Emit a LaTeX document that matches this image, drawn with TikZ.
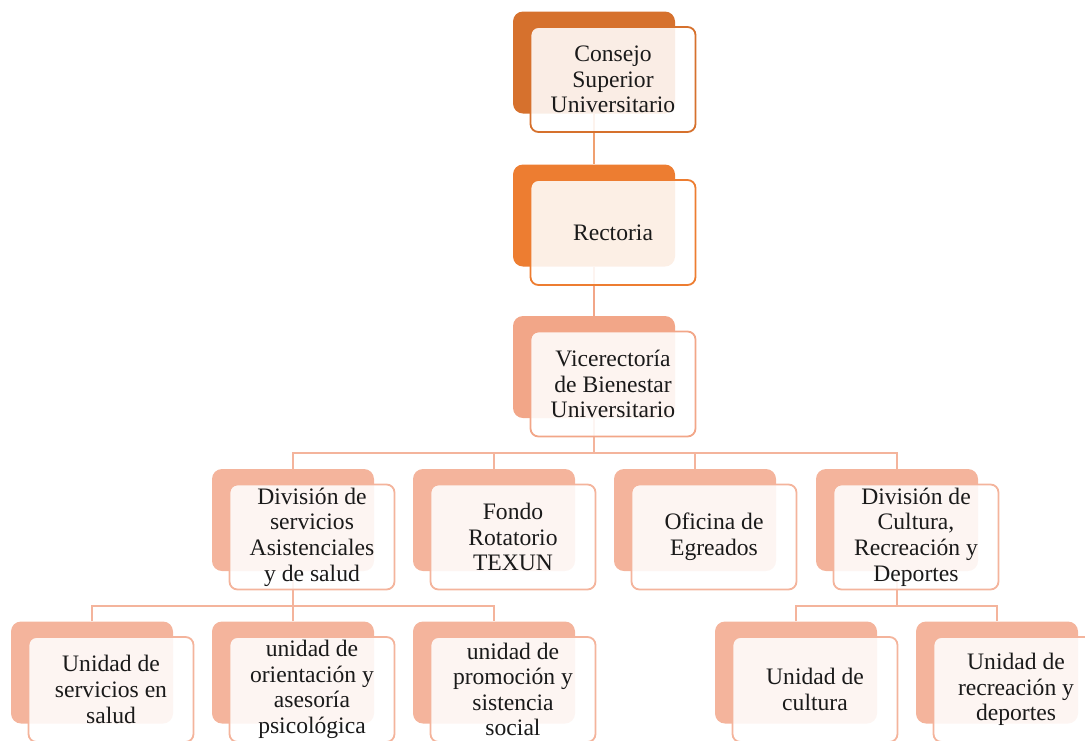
\documentclass[tikz,border=0pt]{standalone}
\usepackage{fontspec}
\setmainfont{Liberation Serif}
\usetikzlibrary{calc}
\definecolor{cTop}{HTML}{D6712D}
\definecolor{cRect}{HTML}{ED7D31}
\definecolor{cVice}{HTML}{F2A688}
\definecolor{cLow}{HTML}{F4B49C}
\definecolor{cLink}{HTML}{F0A070}
\definecolor{txt}{HTML}{1A1A1A}
\begin{document}
\begin{tikzpicture}[x=1pt,y=-1pt,
  backbox/.style={rounded corners=10pt, minimum width=162pt, minimum height=102pt, inner sep=0pt},
  frontbox/.style={draw, line width=1.8pt, rounded corners=8pt, fill=white, fill opacity=0.88, text opacity=1,
    minimum width=165pt, minimum height=105pt, align=center, inner sep=0pt, text=txt,
    font=\fontsize{23.6}{25.6}\selectfont},
  conn/.style={line width=2.4pt, draw=cLow}]
\useasboundingbox (0,0) rectangle (1085,740);
\clip (0,0) rectangle (1085,740);
% back boxes
\node[backbox, fill=cTop] (b1) at (594,62.5) {};
\node[backbox, fill=cRect] (b2) at (594,215.5) {};
\node[backbox, fill=cVice] (b3) at (594,367) {};
\node[backbox, fill=cLow] (b4a) at (293,520) {};
\node[backbox, fill=cLow] (b4b) at (494,520) {};
\node[backbox, fill=cLow] (b4c) at (695,520) {};
\node[backbox, fill=cLow] (b4d) at (897,520) {};
\node[backbox, fill=cLow] (b5a) at (92,672.5) {};
\node[backbox, fill=cLow] (b5b) at (293,672.5) {};
\node[backbox, fill=cLow] (b5c) at (494,672.5) {};
\node[backbox, fill=cLow] (b5d) at (796,672.5) {};
\node[backbox, fill=cLow] (b5e) at (997,672.5) {};
% junctions
\coordinate (j3) at (594,453);
\coordinate (j4l) at (293,606);
\coordinate (j4r) at (897,606);
% connectors
\draw[conn, draw=cLink] (b1.south) -- (b2.north);
\draw[conn, draw=cVice] (b2.south) -- (b3.north);
\draw[conn] (b3.south) -- (j3);
\draw[conn] (b4a.north) |- (j3) -| (b4d.north);
\draw[conn] (b4b.north) -- (b4b.north |- j3);
\draw[conn] (b4c.north) -- (b4c.north |- j3);
\draw[conn] (b4a.south) -- (j4l);
\draw[conn] (b5a.north) |- (j4l) -| (b5c.north);
\draw[conn] (b5b.north) -- (b5b.north |- j4l);
\draw[conn] (b4d.south) -- (j4r);
\draw[conn] (b5d.north) |- (j4r) -| (b5e.north);
% front boxes
\node[frontbox, draw=cTop] (f1) at ($(b1)+(19,17)$) {Consejo\\Superior\\Universitario};
\node[frontbox, draw=cRect] (f2) at ($(b2)+(19,17)$) {Rectoria};
\node[frontbox, draw=cVice] (f3) at ($(b3)+(19,17)$) {Vicerectoría\\de Bienestar\\Universitario};
\node[frontbox, draw=cLow] (f4a) at ($(b4a)+(19,17)$) {División de\\servicios\\Asistenciales\\y de salud};
\node[frontbox, draw=cLow] (f4b) at ($(b4b)+(19,17)$) {Fondo\\Rotatorio\\TEXUN};
\node[frontbox, draw=cLow] (f4c) at ($(b4c)+(19,17)$) {Oficina de\\Egreados};
\node[frontbox, draw=cLow] (f4d) at ($(b4d)+(19,17)$) {División de\\Cultura,\\Recreación y\\Deportes};
\node[frontbox, draw=cLow] (f5a) at ($(b5a)+(19,17)$) {Unidad de\\servicios en\\salud};
\node[frontbox, draw=cLow] (f5b) at ($(b5b)+(19,17)$) {unidad de\\orientación y\\asesoría\\psicológica};
\node[frontbox, draw=cLow] (f5c) at ($(b5c)+(19,17)$) {unidad de\\promoción y\\sistencia\\social};
\node[frontbox, draw=cLow] (f5d) at ($(b5d)+(19,17)$) {Unidad de\\cultura};
\node[frontbox, draw=cLow] (f5e) at ($(b5e)+(19,17)$) {Unidad de\\recreación y\\deportes};
\end{tikzpicture}
\end{document}
